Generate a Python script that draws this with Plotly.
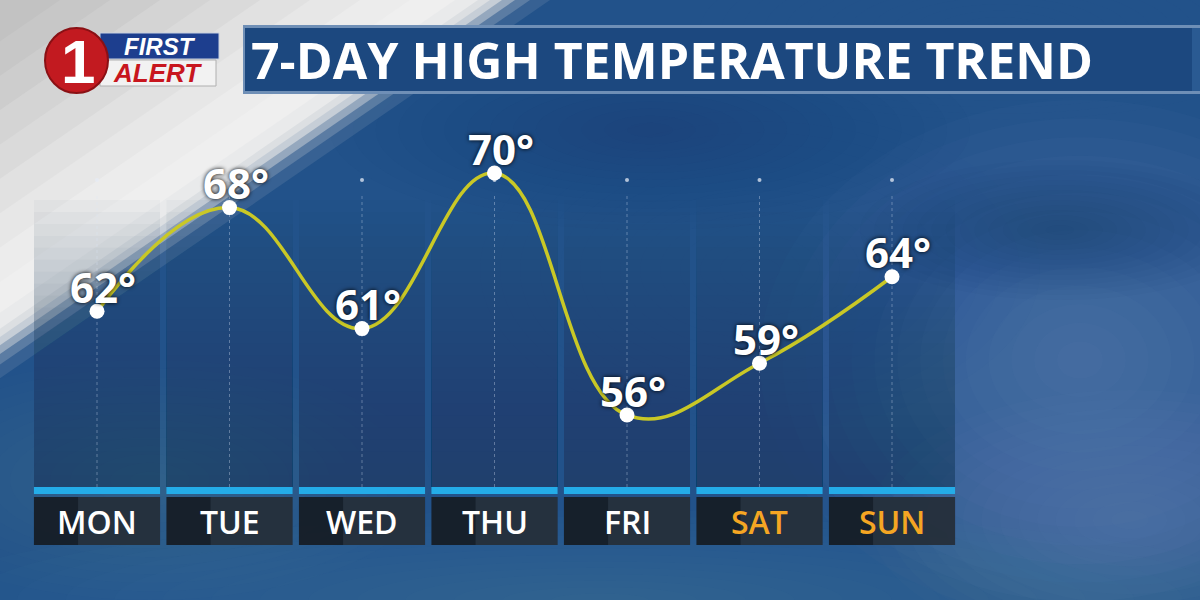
import plotly.graph_objects as go

days = ["MON", "TUE", "WED", "THU", "FRI", "SAT", "SUN"]
highs = [62, 68, 61, 70, 56, 59, 64]
day_colors = ["#ffffff", "#ffffff", "#ffffff", "#ffffff", "#ffffff", "#f5a623", "#f5a623"]
title_text = "7-DAY HIGH TEMPERATURE TREND"

W, H = 1200, 600
def px(x):
    return x / W
def py(y):
    return 1 - y / H

# pixel<->value scale of the chart area
X0_PX, DX_PX = 97, 132.5
T_REF, T_REF_PX, PX_PER_DEG = 70, 173, 17.29
def t_at(ypix):
    return T_REF - (ypix - T_REF_PX) / PX_PER_DEG

xs = list(range(len(days)))
shapes = []

def rect(x0, y0, x1, y1, color, layer="below", line=None, opacity=1.0):
    shapes.append(dict(type="rect", xref="paper", yref="paper",
                       x0=px(x0), x1=px(x1), y0=py(y1), y1=py(y0),
                       fillcolor=color, line=line or dict(width=0),
                       layer=layer, opacity=opacity))

def path(d_pts, color, opacity=1.0, layer="below"):
    d = "M " + " L ".join(f"{px(a)},{py(b)}" for a, b in d_pts) + " Z"
    shapes.append(dict(type="path", xref="paper", yref="paper", path=d,
                       fillcolor=color, line=dict(width=0), layer=layer, opacity=opacity))

def soft_ellipse(cx, cy, rx, ry, color, opacity, steps=14):
    for k in range(steps):
        f = 1 - k / steps
        shapes.append(dict(type="circle", xref="paper", yref="paper",
                           x0=px(cx - rx * f), x1=px(cx + rx * f),
                           y0=py(cy + ry * f), y1=py(cy - ry * f),
                           fillcolor=color, line=dict(width=0), layer="below",
                           opacity=opacity / steps))

# ---------- sky background ----------
rect(0, 0, W, H, "#22528a")
soft_ellipse(1080, 360, 320, 260, "#7d9fc4", 0.55)
soft_ellipse(1130, 520, 260, 130, "#8aaacb", 0.45)
soft_ellipse(600, 600, 680, 90, "#5a88b8", 0.5)
soft_ellipse(150, 480, 280, 120, "#5a80a8", 0.45)
soft_ellipse(760, 270, 280, 160, "#2f63a0", 0.35)
soft_ellipse(1000, 30, 300, 90, "#3b6a9e", 0.45)
soft_ellipse(650, 130, 320, 100, "#143766", 0.5)
soft_ellipse(1060, 230, 200, 70, "#143766", 0.35)

# light diagonal wedge upper-left (edge from (480,0) to (0,330))
SLOPE = 330 / 480
wedge = [(550, "#5f7ea3", 0.35), (530, "#7f97b3", 0.5), (515, "#a4b3c4", 0.8),
         (502, "#c6ced7", 1.0), (490, "#dcdfe2", 1.0), (478, "#e9eaeb", 1.0),
         (455, "#efefef", 1.0), (410, "#ececec", 1.0), (360, "#e7e7e7", 1.0),
         (310, "#e1e1e1", 1.0), (260, "#dadada", 1.0), (210, "#d4d4d4", 1.0),
         (160, "#cdcdcd", 1.0), (110, "#c7c7c7", 1.0), (60, "#c2c2c2", 1.0)]
for c, col, op in wedge:
    path([(0, 0), (c, 0), (0, c * SLOPE)], col, op)

# ---------- column panels ----------
half = 0.476
steps = 24
top_px, bot_px = 200, 487
for i in xs:
    for k in range(steps):
        y0 = top_px + (bot_px - top_px) * k / steps
        shapes.append(dict(type="rect", xref="x", yref="paper", x0=i - half, x1=i + half,
                           y0=py(bot_px), y1=py(y0), fillcolor="rgba(45,65,95,0.03)",
                           line=dict(width=0), layer="below"))
    shapes.append(dict(type="line", xref="x", yref="paper", x0=i, x1=i,
                       y0=py(487), y1=py(195),
                       line=dict(color="rgba(220,230,245,0.35)", width=1, dash="dot"),
                       layer="below"))
    # blue bar
    shapes.append(dict(type="rect", xref="x", yref="paper", x0=i - half, x1=i + half,
                       y0=py(494), y1=py(487), fillcolor="#24ace8", line=dict(width=0), layer="below"))
    # label box
    shapes.append(dict(type="rect", xref="x", yref="paper", x0=i - half, x1=i + half,
                       y0=py(545), y1=py(497), fillcolor="rgba(22,28,36,0.93)", line=dict(width=0), layer="below"))
    shapes.append(dict(type="rect", xref="x", yref="paper", x0=i - half * 0.3, x1=i + half,
                       y0=py(545), y1=py(497), fillcolor="rgba(90,110,130,0.22)", line=dict(width=0), layer="below"))

# ---------- title bar ----------
rect(243, 25, W, 94, "#6f8fb6")
rect(245, 28, W, 91, "#1c487f")
rect(1192, 28, W, 91, "#2a5a92")

# ---------- logo ----------
rect(100, 33, 219, 59, "#1d3e8e", line=dict(color="#c8d0e0", width=1))
rect(100, 60, 216, 86, "#f2f2f2", line=dict(color="#b0b0b0", width=1))
shapes.append(dict(type="circle", xref="paper", yref="paper",
                   x0=px(45), x1=px(108), y0=py(93), y1=py(28),
                   fillcolor="#c21a20", line=dict(color="#8a1014", width=2), layer="below"))

annotations = []
annotations.append(dict(xref="paper", yref="paper", x=px(78), y=py(62), text="<b>1</b>",
                        showarrow=False, font=dict(family="Liberation Sans", size=62, color="#ffffff"),
                        xanchor="center", yanchor="middle"))
annotations.append(dict(xref="paper", yref="paper", x=px(160), y=py(46), text="<b><i>FIRST</i></b>",
                        showarrow=False, font=dict(family="Liberation Sans", size=24, color="#ffffff"),
                        xanchor="center", yanchor="middle"))
annotations.append(dict(xref="paper", yref="paper", x=px(158), y=py(73), text="<b><i>ALERT</i></b>",
                        showarrow=False, font=dict(family="Liberation Sans", size=26, color="#c8161e"),
                        xanchor="center", yanchor="middle"))
annotations.append(dict(xref="paper", yref="paper", x=px(249), y=py(60), text="<b>" + title_text + "</b>",
                        showarrow=False, font=dict(family="Open Sans", size=50, color="#ffffff"),
                        xanchor="left", yanchor="middle"))

# temperature labels
for i, t in zip(xs, highs):
    annotations.append(dict(x=i, y=t, xref="x", yref="y", text=f"<b>{t}°</b>", showarrow=False,
                            xshift=6, yshift=25, xanchor="center", yanchor="middle",
                            font=dict(family="Open Sans", size=42, color="#ffffff",
                                      shadow="0px 0px 4px rgba(0,0,0,1)")))
# day labels
for i, d, c in zip(xs, days, day_colors):
    annotations.append(dict(x=i, y=py(521), xref="x", yref="paper", text=d, showarrow=False,
                            xanchor="center", yanchor="middle",
                            font=dict(family="Open Sans", size=32, color=c, weight=600)))

fig = go.Figure()
fig.add_trace(go.Scatter(x=xs, y=[t_at(180)] * len(xs), mode="markers",
                         marker=dict(size=4, color="rgba(230,235,245,0.75)"), hoverinfo="skip"))
fig.add_trace(go.Scatter(x=xs, y=highs, mode="lines",
                         line=dict(color="#c9c826", width=3.5, shape="spline", smoothing=1.2),
                         hoverinfo="skip"))
fig.add_trace(go.Scatter(x=xs, y=highs, mode="markers",
                         marker=dict(size=15, color="#ffffff", line=dict(width=0)), hoverinfo="skip"))

fig.update_layout(
    width=W, height=H, margin=dict(l=0, r=0, t=0, b=0),
    paper_bgcolor="#22528a", plot_bgcolor="rgba(0,0,0,0)",
    showlegend=False, shapes=shapes, annotations=annotations,
    xaxis=dict(range=[-X0_PX / DX_PX, (W - X0_PX) / DX_PX], visible=False, fixedrange=True),
    yaxis=dict(range=[t_at(H), t_at(0)], visible=False, fixedrange=True),
)
fig.write_html("out.html", config={"displayModeBar": False},
               post_script="document.body.style.margin='0';document.body.style.overflow='hidden';")
